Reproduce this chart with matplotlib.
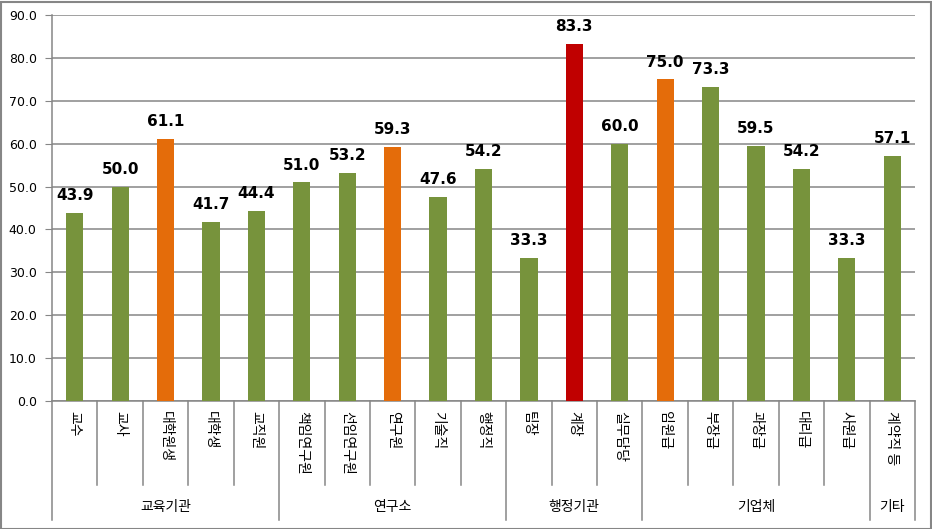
import matplotlib
matplotlib.use("Agg")
import matplotlib.pyplot as plt
from matplotlib.transforms import blended_transform_factory

categories = ["교수", "교사", "대학원생", "대학생", "교직원",
              "책임연구원", "선임연구원", "연구원", "기술직", "행정직",
              "팀장", "계장", "실무담당",
              "임원급", "부장급", "과장급", "대리급", "사원급",
              "계약직 등"]
values = [43.9, 50.0, 61.1, 41.7, 44.4,
          51.0, 53.2, 59.3, 47.6, 54.2,
          33.3, 83.3, 60.0,
          75.0, 73.3, 59.5, 54.2, 33.3,
          57.1]
bar_colors = ["#77933C", "#77933C", "#E46C0A", "#77933C", "#77933C",
              "#77933C", "#77933C", "#E46C0A", "#77933C", "#77933C",
              "#77933C", "#C00000", "#77933C",
              "#E46C0A", "#77933C", "#77933C", "#77933C", "#77933C",
              "#77933C"]
groups = ["교육기관", "연구소", "행정기관", "기업체", "기타"]
group_sizes = [5, 5, 3, 5, 1]
yticks = [0, 10, 20, 30, 40, 50, 60, 70, 80, 90]

plt.rcParams['font.family'] = ['Noto Sans CJK KR', 'DejaVu Sans']

W, H = 932, 529
fig = plt.figure(figsize=(W / 100, H / 100), dpi=100)
fig.patch.set_facecolor("white")

left, right, top, bottom = 52, 915, 15, 401
ax = fig.add_axes([left / W, (H - bottom) / H, (right - left) / W, (bottom - top) / H])

n = len(categories)
x = list(range(n))
ax.bar(x, values, width=0.38, color=bar_colors, zorder=3)
ax.set_xlim(-0.5, n - 0.5)
ax.set_ylim(0, 90)
ax.set_yticks(yticks)
ax.set_yticklabels([f"{v:.1f}" for v in yticks], family="DejaVu Sans", fontsize=9)
ax.yaxis.grid(True, color="#868686", linewidth=1.1, zorder=0)
ax.tick_params(axis="y", length=5, color="#868686", pad=6)
ax.tick_params(axis="x", length=0)
ax.set_xticks([])
for s in ["top", "right"]:
    ax.spines[s].set_visible(False)
for s in ["left", "bottom"]:
    ax.spines[s].set_color("#868686")
    ax.spines[s].set_linewidth(1.1)

for xi, v in zip(x, values):
    ax.annotate(f"{v:.1f}", (xi, v), xytext=(0, 7), textcoords="offset points",
                ha="center", va="bottom", fontsize=11, fontweight="bold",
                family="DejaVu Sans", color="black")

trans = blended_transform_factory(ax.transData, ax.transAxes)
ah = bottom - top
cat_line_bottom = -(485 - bottom) / ah
grp_line_bottom = -(520 - bottom) / ah
grp_label_y = -(507 - bottom) / ah
label_top = -(411 - bottom) / ah

for xi, c in zip(x, categories):
    ax.text(xi, label_top, c, transform=trans, rotation=-90, ha="center", va="top",
            fontsize=10)

# category separators
bounds = [0]
for g in group_sizes:
    bounds.append(bounds[-1] + g)
for i in range(n + 1):
    xb = i - 0.5
    yb = grp_line_bottom if i in bounds else cat_line_bottom
    ax.plot([xb, xb], [0, yb], transform=trans, color="#868686", linewidth=1.1,
            clip_on=False)

for gi, g in enumerate(groups):
    cx = (bounds[gi] + bounds[gi + 1] - 1) / 2
    ax.text(cx, grp_label_y, g, transform=trans, ha="center", va="center", fontsize=10)

# outer border
fig.add_artist(plt.Rectangle((0.5 / W, 0.5 / H), (W - 2) / W, (H - 2) / H,
                             transform=fig.transFigure, fill=False,
                             edgecolor="#868686", linewidth=1.5))

fig.savefig("out.png", dpi=100, facecolor="white")
